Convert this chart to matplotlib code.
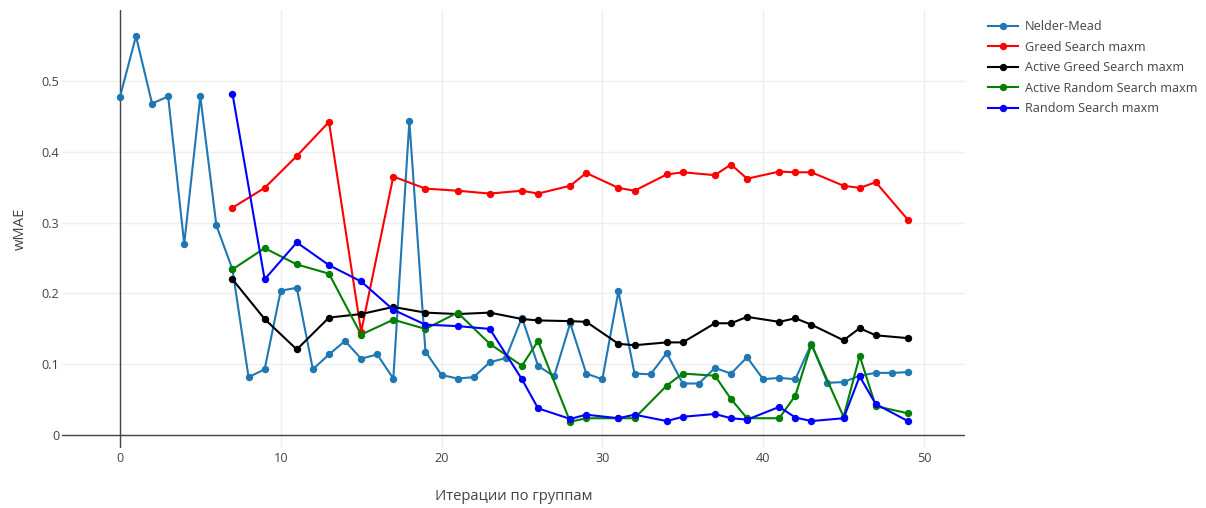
import matplotlib
matplotlib.use('Agg')
import matplotlib.pyplot as plt

# wMAE per iteration for every search strategy
nm_x = list(range(0, 50))
nm_y = [0.477, 0.563, 0.468, 0.478, 0.270, 0.478, 0.296, 0.234, 0.082, 0.093,
        0.204, 0.208, 0.093, 0.114, 0.133, 0.108, 0.114, 0.080, 0.443, 0.118,
        0.085, 0.080, 0.082, 0.103, 0.109, 0.166, 0.098, 0.083, 0.158, 0.087,
        0.079, 0.203, 0.087, 0.086, 0.116, 0.073, 0.073, 0.095, 0.087, 0.110,
        0.079, 0.081, 0.079, 0.129, 0.074, 0.075, 0.084, 0.088, 0.088, 0.089]

greed_x = [7, 9, 11, 13, 15, 17, 19, 21, 23, 25, 26, 28, 29, 31, 32, 34, 35,
           37, 38, 39, 41, 42, 43, 45, 46, 47, 49]
greed_y = [0.321, 0.349, 0.394, 0.442, 0.146, 0.365, 0.348, 0.345, 0.341, 0.345,
           0.341, 0.352, 0.370, 0.349, 0.345, 0.368, 0.371, 0.367, 0.382, 0.362,
           0.372, 0.371, 0.371, 0.352, 0.349, 0.357, 0.304]

active_greed_x = greed_x
active_greed_y = [0.220, 0.164, 0.121, 0.166, 0.171, 0.181, 0.173, 0.171, 0.173,
                  0.164, 0.162, 0.161, 0.160, 0.129, 0.127, 0.131, 0.131, 0.158,
                  0.158, 0.167, 0.160, 0.165, 0.156, 0.134, 0.151, 0.141, 0.137]

active_random_x = greed_x
active_random_y = [0.234, 0.264, 0.241, 0.228, 0.142, 0.163, 0.150, 0.173, 0.129,
                   0.098, 0.133, 0.019, 0.024, 0.024, 0.024, 0.070, 0.087, 0.084,
                   0.051, 0.024, 0.024, 0.056, 0.128, 0.026, 0.112, 0.041, 0.031]

random_x = greed_x
random_y = [0.482, 0.220, 0.272, 0.240, 0.217, 0.177, 0.156, 0.154, 0.150,
            0.079, 0.038, 0.023, 0.029, 0.024, 0.029, 0.020, 0.026, 0.030,
            0.024, 0.022, 0.040, 0.025, 0.020, 0.024, 0.083, 0.044, 0.020]

series = [
    ('Nelder-Mead', nm_x, nm_y, '#1f77b4'),
    ('Greed Search maxm', greed_x, greed_y, 'red'),
    ('Active Greed Search maxm', active_greed_x, active_greed_y, 'black'),
    ('Active Random Search maxm', active_random_x, active_random_y, 'green'),
    ('Random Search maxm', random_x, random_y, 'blue'),
]

plt.rcParams['font.family'] = ['Open Sans', 'DejaVu Sans']
text_color = '#444444'

W, H = 1206, 508
fig = plt.figure(figsize=(W / 100, H / 100), dpi=100)
left, right, top, bottom = 62, 965, 10, 448
ax = fig.add_axes([left / W, (H - bottom) / H, (right - left) / W, (bottom - top) / H])

for label, xs, ys, color in series:
    ax.plot(xs, ys, color=color, linewidth=1.5, marker='o', markersize=4.3,
            label=label, zorder=3)

ax.set_xlim(-3.6, 52.55)
ax.set_ylim(-0.018, 0.6)
ax.set_xticks([0, 10, 20, 30, 40, 50])
ax.set_yticks([0, 0.1, 0.2, 0.3, 0.4, 0.5])
ax.set_yticklabels(['0', '0.1', '0.2', '0.3', '0.4', '0.5'])
ax.grid(True, color='#eeeeee', linewidth=1)
ax.set_axisbelow(True)
ax.axhline(0, color=text_color, linewidth=1, zorder=2)
ax.axvline(0, color=text_color, linewidth=1, zorder=2)
for s in ax.spines.values():
    s.set_visible(False)
ax.tick_params(length=0, labelsize=9.1, labelcolor=text_color)
ax.tick_params(axis='y', pad=2)
ax.tick_params(axis='x', pad=3)

fig.text(514 / W, 1 - 497 / H, 'Итерации по группам',
         ha='center', va='center', fontsize=10.6, color=text_color)
fig.text(20 / W, 1 - 229 / H, 'wMAE', ha='center', va='center',
         rotation=90, fontsize=10.6, color=text_color)

leg = fig.legend(loc='upper left', bbox_to_anchor=(983 / W, 1 - 15 / H),
                 frameon=False, fontsize=9.1, handlelength=2.4,
                 handletextpad=0.5, labelspacing=0.6, borderaxespad=0)
for t in leg.get_texts():
    t.set_color(text_color)

fig.savefig('out.png', dpi=100)
